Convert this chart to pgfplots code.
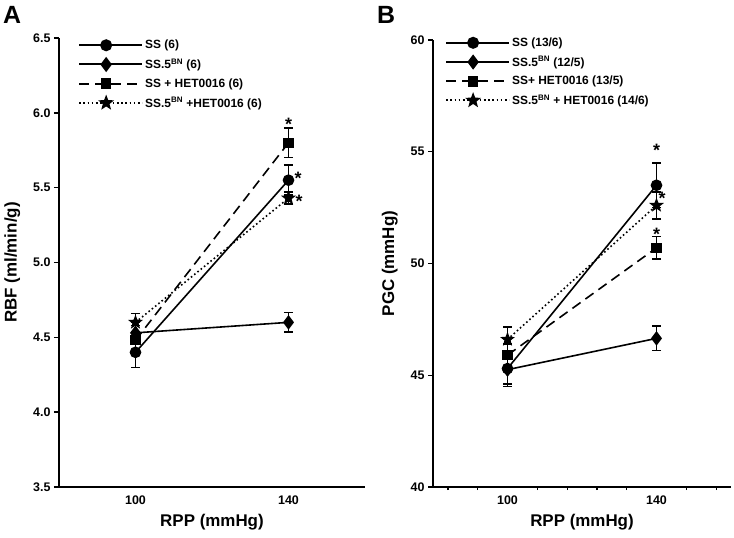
\documentclass[border=0pt]{standalone}
\usepackage{fontspec}
\setmainfont{Liberation Sans}
\usepackage{pgfplots}
\pgfplotsset{compat=1.18}
\pgfdeclareplotmark{fstar}{%
  \pgfpathmoveto{\pgfpointpolar{90}{\pgfplotmarksize}}%
  \pgfpathlineto{\pgfpointpolar{126}{0.42\pgfplotmarksize}}%
  \pgfpathlineto{\pgfpointpolar{162}{\pgfplotmarksize}}%
  \pgfpathlineto{\pgfpointpolar{198}{0.42\pgfplotmarksize}}%
  \pgfpathlineto{\pgfpointpolar{234}{\pgfplotmarksize}}%
  \pgfpathlineto{\pgfpointpolar{270}{0.42\pgfplotmarksize}}%
  \pgfpathlineto{\pgfpointpolar{306}{\pgfplotmarksize}}%
  \pgfpathlineto{\pgfpointpolar{342}{0.42\pgfplotmarksize}}%
  \pgfpathlineto{\pgfpointpolar{18}{\pgfplotmarksize}}%
  \pgfpathlineto{\pgfpointpolar{54}{0.42\pgfplotmarksize}}%
  \pgfpathclose
  \pgfusepathqfillstroke}
\tikzset{ast/.style={font=\bfseries\fontsize{18}{18}\selectfont}}
\pgfplotsset{
  panel/.style={
    scale only axis,
    axis lines*=left,
    axis line style={line width=1.6bp},
    xmin=80, xmax=160,
    xtick={100,140},
    major x tick style={draw=none},
    tick align=outside,
    major tick length=5bp,
    every tick/.style={black, line width=1.4bp},
    ticklabel style={font=\bfseries\fontsize{12.5}{14}\selectfont},
    /pgf/number format/assume math mode=true,
    xlabel={RPP (mmHg)},
    xlabel style={font=\bfseries\fontsize{17}{20}\selectfont, yshift=-3bp},
    ylabel style={font=\bfseries\fontsize{17}{20}\selectfont, yshift=6bp},
    legend style={draw=none, fill=none, inner sep=0pt, anchor=north west,
      font=\bfseries\fontsize{12}{14}\selectfont, row sep=4.5bp,
      cells={anchor=west}},
    legend image code/.code={\draw[mark repeat=2,mark phase=2,#1] plot coordinates {(0bp,0bp)(27bp,0bp)(54bp,0bp)};
      \path (0bp,0bp) -- (63bp,0bp);},
    legend image post style={line width=2bp},
    error bars/error bar style={line width=1.5bp, solid},
    error bars/error mark options={rotate=90, mark size=4.5bp, line width=1.5bp, solid},
  },
  s1/.style={black, line width=1.6bp, mark=*, mark size=5bp, mark options={solid}},
  s2/.style={black, line width=1.6bp, mark=diamond*, mark size=6bp, mark options={solid}},
  s3/.style={black, line width=1.6bp, dash pattern=on 10bp off 6bp, mark=square*, mark size=4.3bp, mark options={solid}},
  s4/.style={black, line width=1.6bp, dash pattern=on 1.6bp off 2.6bp, mark=fstar, mark size=5.5bp, mark options={solid}},
}
\begin{document}
\begin{tikzpicture}
\path[use as bounding box] (0,0) rectangle (734bp,538bp);
\node[font=\bfseries\fontsize{25}{25}\selectfont] at (12bp,523bp) {A};
\node[font=\bfseries\fontsize{25}{25}\selectfont] at (386bp,523bp) {B};
\begin{axis}[panel,
  at={(59bp,51bp)}, anchor=south west,
  width=306bp, height=449bp,
  ymin=3.5, ymax=6.5,
  ytick={3.5,4.0,4.5,5.0,5.5,6.0,6.5},
  yticklabel style={/pgf/number format/.cd, fixed, fixed zerofill, precision=1},
  ylabel={RBF (ml/min/g)},
  legend style={at={(rel axis cs:0.062,1.0)}},
]
\addplot+[s1, error bars/.cd, y dir=both, y explicit] coordinates {(100,4.40) +- (0,0.10) (140,5.55) +- (0,0.10)};
\addlegendentry{SS (6)}
\addplot+[s2, error bars/.cd, y dir=both, y explicit] coordinates {(100,4.53) +- (0,0.07) (140,4.60) +- (0,0.065)};
\addlegendentry{SS.5\textsuperscript{BN} (6)}
\addplot+[s3, error bars/.cd, y dir=both, y explicit] coordinates {(100,4.48) +- (0,0.10) (140,5.80) +- (0,0.10)};
\addlegendentry{SS + HET0016 (6)}
\addplot+[s4, error bars/.cd, y dir=both, y explicit] coordinates {(100,4.60) +- (0,0.06) (140,5.43) +- (0,0.04)};
\addlegendentry{SS.5\textsuperscript{BN} +HET0016 (6)}
\node[ast] at (axis cs:140,5.92) {*};
\node[ast] at (axis cs:142.5,5.565) {*};
\node[ast] at (axis cs:142.8,5.41) {*};
\end{axis}
\begin{axis}[panel,
  at={(433bp,51bp)}, anchor=south west,
  width=298bp, height=447bp,
  ymin=40, ymax=60,
  ytick={40,45,50,55,60},
  minor xtick={84,92,108,116,124,132,148,156},
  minor x tick style={black, line width=1.2bp},
  minor tick length=3bp,
  xminorticks=true,
  ylabel={PGC (mmHg)},
  legend style={at={(rel axis cs:0.04,1.01)}},
]
\addplot+[s1, error bars/.cd, y dir=both, y explicit] coordinates {(100,45.3) +- (0,0.7) (140,53.5) +- (0,1.0)};
\addlegendentry{SS (13/6)}
\addplot+[s2, error bars/.cd, y dir=both, y explicit] coordinates {(100,45.25) +- (0,0.75) (140,46.65) +- (0,0.55)};
\addlegendentry{SS.5\textsuperscript{BN} (12/5)}
\addplot+[s3, error bars/.cd, y dir=both, y explicit] coordinates {(100,45.9) +- (0,0.5) (140,50.7) +- (0,0.5)};
\addlegendentry{SS+ HET0016 (13/5)}
\addplot+[s4, error bars/.cd, y dir=both, y explicit] coordinates {(100,46.6) +- (0,0.55) (140,52.6) +- (0,0.6)};
\addlegendentry{SS.5\textsuperscript{BN} + HET0016 (14/6)}
\node[ast] at (axis cs:140,55.05) {*};
\node[ast] at (axis cs:141.5,52.9) {*};
\node[ast] at (axis cs:140,51.3) {*};
\end{axis}
\end{tikzpicture}
\end{document}
